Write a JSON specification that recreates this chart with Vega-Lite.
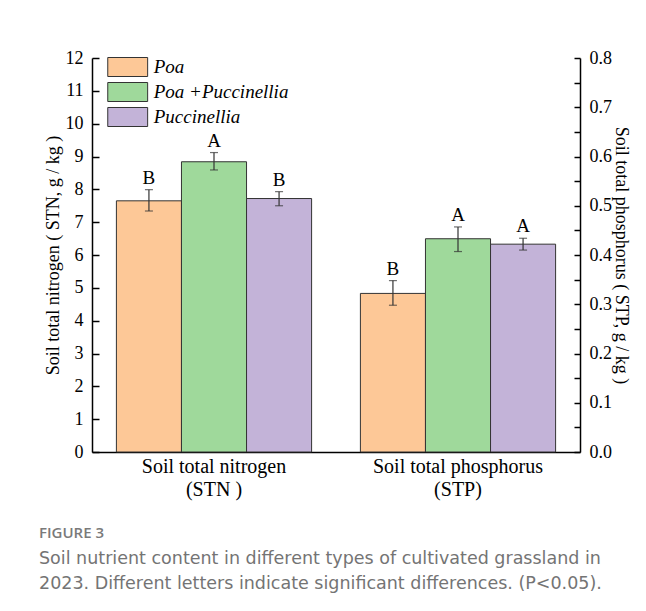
{
  "$schema": "https://vega.github.io/schema/vega-lite/v6.json",
  "width": 488,
  "height": 394,
  "autosize": {"type": "none"},
  "padding": {"left": 92, "top": 58, "right": 66, "bottom": 159},
  "background": "white",
  "config": {
    "view": {"stroke": null},
    "font": "Liberation Serif",
    "axis": {
      "grid": false,
      "labelFont": "Liberation Serif",
      "titleFont": "Liberation Serif",
      "labelColor": "black",
      "titleColor": "black",
      "domainColor": "black",
      "tickColor": "black",
      "domainWidth": 1.5,
      "tickWidth": 1.5,
      "labelFontSize": 18,
      "titleFontSize": 18,
      "titleFontWeight": "normal",
      "labelOverlap": false,
      "labelFlush": false
    }
  },
  "title": {
    "text": "FIGURE 3",
    "subtitle": [
      "Soil nutrient content in different types of cultivated grassland in",
      "2023. Different letters indicate significant differences. (P<0.05)."
    ],
    "orient": "bottom",
    "anchor": "start",
    "frame": "group",
    "dx": -53,
    "offset": 26,
    "font": "Open Sans",
    "fontSize": 15,
    "fontWeight": 600,
    "color": "#7a7a7a",
    "subtitleFont": "DejaVu Sans",
    "subtitleFontSize": 17.5,
    "subtitleColor": "#747474",
    "subtitleLineHeight": 25,
    "subtitlePadding": 9
  },
  "data": {
    "values": [
      {"nutrient": "Soil total nitrogen (STN )", "grass": "Poa", "mean": 7.65, "lo": 7.34, "hi": 7.99, "letter": "B"},
      {"nutrient": "Soil total nitrogen (STN )", "grass": "Poa +Puccinellia", "mean": 8.84, "lo": 8.59, "hi": 9.12, "letter": "A"},
      {"nutrient": "Soil total nitrogen (STN )", "grass": "Puccinellia", "mean": 7.72, "lo": 7.5, "hi": 7.93, "letter": "B"},
      {"nutrient": "Soil total phosphorus (STP)", "grass": "Poa", "mean": 0.322, "lo": 0.298, "hi": 0.348, "letter": "B"},
      {"nutrient": "Soil total phosphorus (STP)", "grass": "Poa +Puccinellia", "mean": 0.433, "lo": 0.407, "hi": 0.457, "letter": "A"},
      {"nutrient": "Soil total phosphorus (STP)", "grass": "Puccinellia", "mean": 0.422, "lo": 0.41, "hi": 0.434, "letter": "A"}
    ]
  },
  "encoding": {
    "x": {
      "field": "nutrient",
      "type": "nominal",
      "sort": ["Soil total nitrogen (STN )", "Soil total phosphorus (STP)"],
      "scale": {"paddingInner": 0.2, "paddingOuter": 0.1},
      "axis": {
        "title": null,
        "labelAngle": 0,
        "labelFontSize": 20,
        "labelLineHeight": 23.5,
        "labelPadding": 10,
        "tickSize": -6,
        "labelLimit": 400,
        "labelExpr": "[substring(datum.label, 0, indexof(datum.label, ' (')), substring(datum.label, indexof(datum.label, ' (') + 1)]"
      }
    },
    "xOffset": {
      "field": "grass",
      "type": "nominal",
      "sort": ["Poa", "Poa +Puccinellia", "Puccinellia"],
      "scale": {"paddingInner": 0, "paddingOuter": 0}
    }
  },
  "layer": [
    {
      "transform": [{"filter": "datum.nutrient == 'Soil total nitrogen (STN )'"}],
      "mark": {"type": "bar", "stroke": "#333333", "strokeWidth": 1},
      "encoding": {
        "y": {
          "field": "mean",
          "type": "quantitative",
          "scale": {"domain": [0, 12], "nice": false},
          "axis": {
            "orient": "left",
            "title": "Soil total nitrogen ( STN, g / kg )",
            "values": [0, 1, 2, 3, 4, 5, 6, 7, 8, 9, 10, 11, 12],
            "labelFont": "Liberation Serif",
            "titleFont": "Liberation Serif",
            "labelFontSize": 18,
            "titleFontSize": 18,
            "tickSize": -7,
            "labelPadding": 16,
            "titlePadding": 3
          }
        },
        "fill": {
          "field": "grass",
          "type": "nominal",
          "sort": ["Poa", "Poa +Puccinellia", "Puccinellia"],
          "scale": {
            "domain": ["Poa", "Poa +Puccinellia", "Puccinellia"],
            "range": ["#fdc897", "#9fd99b", "#c3b3d8"]
          },
          "legend": {
            "title": null,
            "orient": "none",
            "legendX": 25.7,
            "legendY": -1,
            "padding": 0,
            "symbolType": "M-2.1,-1H2.1V1H-2.1Z",
            "symbolSize": 361,
            "symbolStrokeColor": "#333333",
            "symbolStrokeWidth": 1,
            "symbolOpacity": 1,
            "labelFont": "Liberation Serif",
            "labelFontStyle": "italic",
            "labelFontSize": 19,
            "labelColor": "black",
            "labelOffset": 16,
            "labelLimit": 300,
            "rowPadding": 1
          }
        }
      }
    },
    {
      "transform": [{"filter": "datum.nutrient == 'Soil total nitrogen (STN )'"}],
      "mark": {"type": "rule", "color": "#333333", "strokeWidth": 1.2},
      "encoding": {
        "y": {"field": "lo", "type": "quantitative", "scale": {"domain": [0, 12], "nice": false}, "axis": null},
        "y2": {"field": "hi"}
      }
    },
    {
      "transform": [{"filter": "datum.nutrient == 'Soil total nitrogen (STN )'"}],
      "mark": {"type": "tick", "color": "#333333", "size": 8, "thickness": 1.2},
      "encoding": {"y": {"field": "lo", "type": "quantitative", "scale": {"domain": [0, 12], "nice": false}, "axis": null}}
    },
    {
      "transform": [{"filter": "datum.nutrient == 'Soil total nitrogen (STN )'"}],
      "mark": {"type": "tick", "color": "#333333", "size": 8, "thickness": 1.2},
      "encoding": {"y": {"field": "hi", "type": "quantitative", "scale": {"domain": [0, 12], "nice": false}, "axis": null}}
    },
    {
      "transform": [{"filter": "datum.nutrient == 'Soil total nitrogen (STN )'"}],
      "mark": {"type": "text", "font": "Liberation Serif", "fontSize": 19, "color": "black", "baseline": "alphabetic", "dy": -6},
      "encoding": {
        "y": {"field": "hi", "type": "quantitative", "scale": {"domain": [0, 12], "nice": false}, "axis": null},
        "text": {"field": "letter"}
      }
    },
    {
      "transform": [{"filter": "datum.nutrient == 'Soil total phosphorus (STP)'"}],
      "mark": {"type": "bar", "stroke": "#333333", "strokeWidth": 1},
      "encoding": {
        "y": {
          "field": "mean",
          "type": "quantitative",
          "scale": {"domain": [0, 0.8], "nice": false},
          "axis": {
            "orient": "right",
            "title": "Soil total phosphorus ( STP, g / kg )",
            "values": [0, 0.05, 0.1, 0.15, 0.2, 0.25, 0.3, 0.35, 0.4, 0.45, 0.5, 0.55, 0.6, 0.65, 0.7, 0.75, 0.8],
            "labelExpr": "round(datum.value * 100) % 10 == 0 ? format(datum.value, '.1f') : ''",
            "labelFont": "Liberation Serif",
            "titleFont": "Liberation Serif",
            "labelFontSize": 18,
            "titleFontSize": 18,
            "tickSize": -6,
            "labelPadding": 15,
            "titlePadding": 0
          }
        },
        "fill": {
          "field": "grass",
          "type": "nominal",
          "sort": ["Poa", "Poa +Puccinellia", "Puccinellia"]
        }
      }
    },
    {
      "transform": [{"filter": "datum.nutrient == 'Soil total phosphorus (STP)'"}],
      "mark": {"type": "rule", "color": "#333333", "strokeWidth": 1.2},
      "encoding": {
        "y": {"field": "lo", "type": "quantitative", "scale": {"domain": [0, 0.8], "nice": false}, "axis": null},
        "y2": {"field": "hi"}
      }
    },
    {
      "transform": [{"filter": "datum.nutrient == 'Soil total phosphorus (STP)'"}],
      "mark": {"type": "tick", "color": "#333333", "size": 8, "thickness": 1.2},
      "encoding": {"y": {"field": "lo", "type": "quantitative", "scale": {"domain": [0, 0.8], "nice": false}, "axis": null}}
    },
    {
      "transform": [{"filter": "datum.nutrient == 'Soil total phosphorus (STP)'"}],
      "mark": {"type": "tick", "color": "#333333", "size": 8, "thickness": 1.2},
      "encoding": {"y": {"field": "hi", "type": "quantitative", "scale": {"domain": [0, 0.8], "nice": false}, "axis": null}}
    },
    {
      "transform": [{"filter": "datum.nutrient == 'Soil total phosphorus (STP)'"}],
      "mark": {"type": "text", "font": "Liberation Serif", "fontSize": 19, "color": "black", "baseline": "alphabetic", "dy": -6},
      "encoding": {
        "y": {"field": "hi", "type": "quantitative", "scale": {"domain": [0, 0.8], "nice": false}, "axis": null},
        "text": {"field": "letter"}
      }
    }
  ],
  "resolve": {"scale": {"y": "independent"}}
}
